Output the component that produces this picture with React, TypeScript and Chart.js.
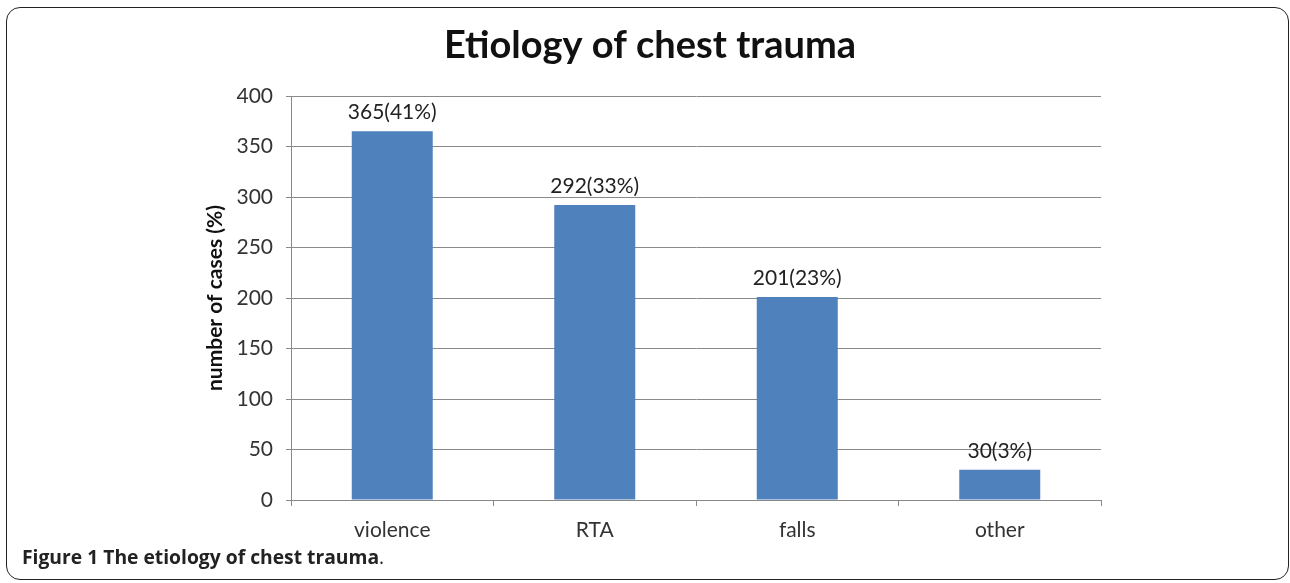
import React, { useEffect, useRef } from "react";
import { Chart, registerables } from "chart.js";

Chart.register(...registerables);

const categories = ["violence", "RTA", "falls", "other"];
const cases = [365, 292, 201, 30];
const percents = [41, 33, 23, 3];
const yTicks = [0, 50, 100, 150, 200, 250, 300, 350, 400];

const TITLE = "Etiology of chest trauma";
const Y_LABEL = "number of cases (%)";

const FONT = "Lato, 'Open Sans', sans-serif";

export default function App() {
  const ref = useRef<HTMLCanvasElement | null>(null);

  useEffect(() => {
    document.body.style.margin = "0";
    const canvas = ref.current;
    if (!canvas) return;

    const overlay = {
      id: "overlay",
      afterDraw(chart: any) {
        const ctx = chart.ctx;
        ctx.save();
        // title
        ctx.fillStyle = "#111";
        ctx.font = `bold 38px ${FONT}`;
        ctx.textAlign = "center";
        ctx.textBaseline = "alphabetic";
        ctx.fillText(TITLE, 650, 58);
        // y label
        ctx.save();
        ctx.translate(222, 298);
        ctx.rotate(-Math.PI / 2);
        ctx.font = `bold 21px ${FONT}`;
        ctx.fillText(Y_LABEL, 0, 0);
        ctx.restore();
        // data labels
        const meta = chart.getDatasetMeta(0);
        ctx.font = `21px ${FONT}`;
        ctx.fillStyle = "#222";
        meta.data.forEach((bar: any, i: number) => {
          ctx.fillText(`${cases[i]}(${percents[i]}%)`, bar.x, bar.y - 12);
        });
        ctx.restore();
      },
    };

    const chart = new Chart(canvas, {
      type: "bar",
      data: {
        labels: categories,
        datasets: [
          {
            data: cases,
            backgroundColor: "#4F81BD",
            categoryPercentage: 0.4,
            barPercentage: 1,
          },
        ],
      },
      plugins: [overlay],
      options: {
        responsive: false,
        animation: false,
        layout: { padding: { left: 0, top: 96, right: 189, bottom: 43 } },
        plugins: {
          legend: { display: false },
          tooltip: { enabled: false },
          title: { display: false },
        },
        scales: {
          x: {
            afterFit(scale: any) {
              scale.height = 40;
            },
            grid: {
              drawOnChartArea: false,
              drawTicks: true,
              tickLength: 6,
              color: "#888",
              offset: true,
            },
            border: { color: "#888" },
            ticks: {
              color: "#333",
              font: { family: FONT, size: 21 },
              padding: 12,
            },
          },
          y: {
            min: 0,
            max: 400,
            afterFit(scale: any) {
              scale.width = 291;
            },
            afterBuildTicks(scale: any) {
              scale.ticks = yTicks.map((v) => ({ value: v }));
            },
            grid: { color: "#8a8a8a", tickLength: 5 },
            border: { color: "#888" },
            ticks: {
              color: "#333",
              font: { family: FONT, size: 21 },
              padding: 13,
            },
          },
        },
      },
    });
    return () => chart.destroy();
  }, []);

  return (
    <div style={{ position: "fixed", left: 0, top: 0, width: 1290, height: 583, background: "#fff", overflow: "hidden" }}>
      <div
        style={{
          position: "absolute",
          left: 6,
          top: 7,
          width: 1283,
          height: 573,
          border: "1.5px solid #222",
          borderRadius: 14,
          boxSizing: "border-box",
        }}
      />
      <canvas ref={ref} width={1290} height={583} style={{ position: "absolute", left: 0, top: 0 }} />
      <div
        style={{
          position: "absolute",
          left: 22,
          top: 543,
          fontFamily: "'Open Sans', sans-serif",
          fontSize: 19.3,
          color: "#222",
          whiteSpace: "nowrap",
        }}
      >
        <b>Figure 1 The etiology of chest trauma</b>.
      </div>
    </div>
  );
}
